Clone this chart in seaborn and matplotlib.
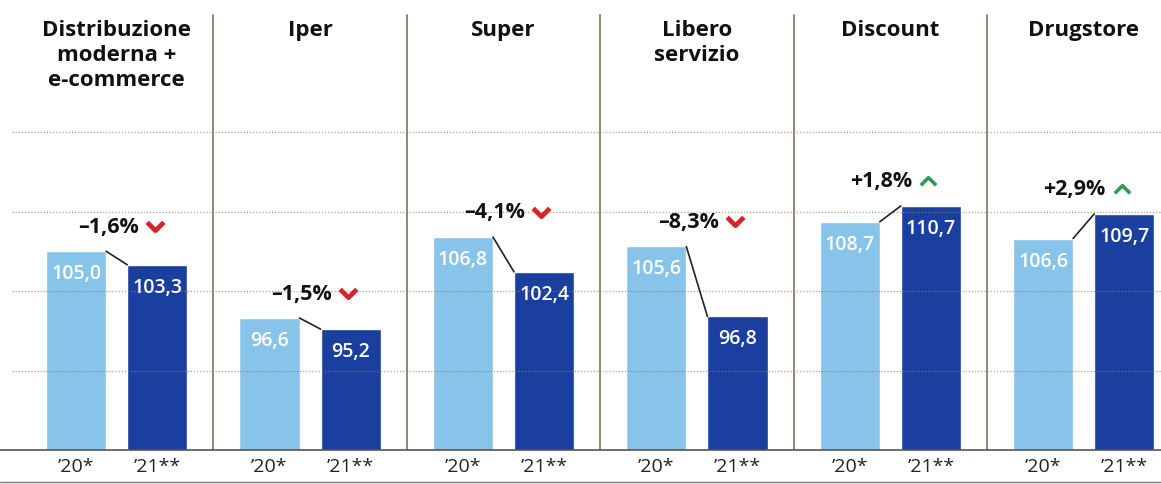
import numpy as np
import pandas as pd
import matplotlib
matplotlib.use("Agg")
import matplotlib.pyplot as plt
import matplotlib.transforms as mtransforms
from matplotlib.path import Path
from matplotlib.lines import Line2D
import seaborn as sns

# ── Data ─────────────────────────────────────────────────────────────────────
categories = ["Distribuzione\nmoderna +\ne-commerce", "Iper", "Super",
              "Libero\nservizio", "Discount", "Drugstore"]
years      = ["’20*", "’21**"]
vals_20    = [105.0, 96.6, 106.8, 105.6, 108.7, 106.6]
vals_21    = [103.3, 95.2, 102.4, 96.8, 110.7, 109.7]
pct_labels = ["–1,6%", "–1,5%", "–4,1%", "–8,3%", "+1,8%", "+2,9%"]
grid_vals  = [90, 100, 110, 120]

# ── Colours ──────────────────────────────────────────────────────────────────
LIGHT = "#88c3e9"
DARK  = "#1b3f9f"
RED   = "#d9232b"
GREEN = "#2f9a55"
SEP   = "#8b7b6b"

df = pd.DataFrame({
    "cat":   np.repeat(np.arange(len(categories)), 2),
    "year":  years * len(categories),
    "value": [v for pair in zip(vals_20, vals_21) for v in pair],
})

sns.set_theme(style="white")
plt.rcParams["font.family"] = ["Open Sans", "DejaVu Sans"]

fig = plt.figure(figsize=(11.61, 4.84), dpi=100)
ax = fig.add_axes([12 / 1161, 34 / 484, 1149 / 1161, 450 / 484])

sns.barplot(data=df, x="cat", y="value", hue="year", hue_order=years,
            palette={years[0]: LIGHT, years[1]: DARK}, saturation=1,
            width=0.84, gap=0.26, legend=False, ax=ax, zorder=2)

ax.set_ylim(80, 80 + 450 / 7.95)
ax.set_xlim(-0.5 - 8 / 193.5, 5.4)
for s in ax.spines.values():
    s.set_visible(False)
ax.set_ylabel("")
ax.set_xlabel("")
ax.set_yticks([])

# gridlines
for g in grid_vals:
    ax.axhline(g, color="#8a8070", lw=0.9, ls=(0, (1, 1.5)), zorder=3, alpha=0.75)

# panel separators
for i in range(len(categories) - 1):
    ax.axvline(i + 0.5, ymin=0, ymax=(450 - 15) / 450, color=SEP, lw=1.3, zorder=4)

bars20 = ax.containers[0]
bars21 = ax.containers[1]

ticks, ticklabels = [], []
chev_down = Path([(-1, 0.5), (0, -0.5), (1, 0.5)],
                 [Path.MOVETO, Path.LINETO, Path.LINETO])
chev_up = Path([(-1, -0.5), (0, 0.5), (1, -0.5)],
               [Path.MOVETO, Path.LINETO, Path.LINETO])

for i, (b1, b2) in enumerate(zip(bars20, bars21)):
    # value labels inside bars
    for b in (b1, b2):
        ax.annotate(f"{b.get_height():.1f}".replace(".", ","),
                    xy=(b.get_x() + b.get_width() / 2, b.get_height()),
                    xytext=(0, -23), textcoords="offset pixels",
                    ha="center", va="center", color="white",
                    fontsize=14, fontweight="semibold", zorder=5)
        ticks.append(b.get_x() + b.get_width() / 2)
    ticklabels += years

    # connector line
    ax.plot([b1.get_x() + b1.get_width(), b2.get_x()],
            [b1.get_height(), b2.get_height()],
            color="#222222", lw=1.2, zorder=5)

    # percentage label + chevron
    top = max(b1.get_height(), b2.get_height())
    ax.annotate(pct_labels[i], xy=(i, top), xytext=(22, 24),
                textcoords="offset pixels", ha="right", va="center",
                fontsize=15.5, fontweight="bold", color="#111111")
    up = pct_labels[i].startswith("+")
    tr = ax.transData + mtransforms.ScaledTranslation(38 / 100, 25 / 100,
                                                     fig.dpi_scale_trans)
    ax.plot([i], [top], transform=tr, marker=chev_up if up else chev_down,
            markersize=11 if up else 12, fillstyle="none",
            markeredgecolor=GREEN if up else RED,
            markeredgewidth=2.6 if up else 3.4, linestyle="none",
            clip_on=False, zorder=6)

    # category title
    ax.text(i, 1 - 20 / 450, categories[i], transform=ax.get_xaxis_transform(),
            ha="center", va="top", fontsize=16, fontweight="bold",
            color="#111111", linespacing=1.24)

ax.set_xticks(ticks)
ax.set_xticklabels(ticklabels, fontsize=14, color="#222222")
ax.tick_params(axis="x", length=0, pad=6)

# baseline and bottom rule
fig.add_artist(Line2D([0, 1], [34 / 484, 34 / 484], color="#555555", lw=1.2))
fig.add_artist(Line2D([0, 1], [2 / 484, 2 / 484], color="#777777", lw=1.0))

fig.savefig("out.png", dpi=100, facecolor="white")
